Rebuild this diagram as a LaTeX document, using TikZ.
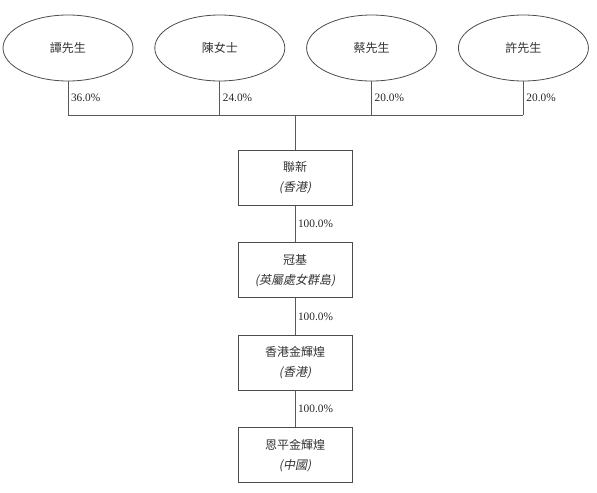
\documentclass[tikz,border=0pt]{standalone}
\usepackage{fontspec}
\setmainfont{Liberation Serif}
\newfontfamily\cjk{Noto Sans CJK TC}
\newfontfamily\cjkit[FakeSlant=0.2]{Noto Sans CJK TC}
\usetikzlibrary{positioning,shapes.geometric}
\tikzset{
  holder/.style={ellipse, draw=black!70, line width=0.6pt, minimum width=97.5pt, minimum height=49.5pt, font=\cjk\fontsize{9}{11}\selectfont, text=black!80},
  firm/.style={draw=black!70, line width=0.6pt, minimum width=85.5pt, minimum height=41.25pt, align=center, font=\cjk\fontsize{9}{15}\selectfont, text=black!80},
  link/.style={draw=black!65, line width=0.6pt},
  pct/.style={font=\fontsize{8.5}{10}\selectfont, text=black!85, inner sep=2pt}
}

\begin{document}
\begin{tikzpicture}[node distance=15.75pt]
  \useasboundingbox (0,0) rectangle (447.75pt,-369.75pt);
  \node[holder] (tam) at (51pt,-36pt) {譚先生};
  \node[holder, right=of tam] (chan) {陳女士};
  \node[holder, right=of chan] (choi) {蔡先生};
  \node[holder, right=of choi] (hui) {許先生};
  \coordinate (bus) at (221.25pt,-86.25pt);

  \node[firm, below=26.25pt of bus] (lx) {聯新\\{\cjkit (香港)}};
  \node[firm, below=27.5pt of lx] (gk) {冠基\\{\cjkit (英屬處女群島)}};
  \node[firm, below=27.5pt of gk] (hkgold) {香港金輝煌\\{\cjkit (香港)}};
  \node[firm, below=27.5pt of hkgold] (epgold) {恩平金輝煌\\{\cjkit (中國)}};

  \draw[link] (tam.south) -- (tam.south |- bus) node[pct, midway, right] {36.0\%} -- (hui.south |- bus);
  \draw[link] (chan.south) -- (chan.south |- bus) node[pct, midway, right] {24.0\%};
  \draw[link] (choi.south) -- (choi.south |- bus) node[pct, midway, right] {20.0\%};
  \draw[link] (hui.south) -- (hui.south |- bus) node[pct, midway, right] {20.0\%};
  \draw[link] (bus) -- (lx);
  \draw[link] (lx) -- (gk) node[pct, midway, right] {100.0\%};
  \draw[link] (gk) -- (hkgold) node[pct, midway, right] {100.0\%};
  \draw[link] (hkgold) -- (epgold) node[pct, midway, right] {100.0\%};
\end{tikzpicture}
\end{document}
